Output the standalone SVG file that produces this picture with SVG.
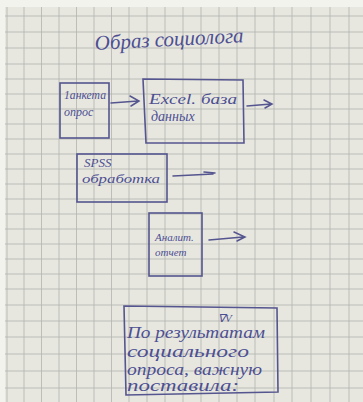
<svg xmlns="http://www.w3.org/2000/svg" width="363" height="402" viewBox="0 0 363 402">
<defs>
<style>
.grid{stroke:#b3b4ad;stroke-width:0.8;fill:none}
.box{fill:none;stroke:#55558f;stroke-width:1.6}
.ink{fill:#4d4f92;font-family:"Liberation Serif",serif;font-style:italic}
.con{stroke:#55558f;stroke-width:1.5;fill:none;stroke-linecap:round}
</style>
</defs>
<rect width="363" height="402" fill="#f3f3ee"/>
<rect x="5" y="7" width="358" height="395" fill="#e7e7e0"/>
<g id="grid" class="grid">
<path d="M7 7V402M24 7V402M41.5 7V402M59 7V402M76.5 7V402M94 7V402M111.5 7V402M129 7V402M147 7V402M165 7V402M183 7V402M201 7V402M219 7V402M237 7V402M255 7V402M274 7V402M292 7V402M311 7V402M330 7V402M349 7V402"/>
<path d="M5 16H363M5 32H363M5 48H363M5 64H363M5 79H363M5 94H363M5 109H363M5 124H363M5 139H363M5 154H363M5 169H363M5 184H363M5 199H363M5 214H363M5 229H363M5 244H363M5 259H363M5 274H363M5 289H363M5 305H363M5 321H363M5 337H363M5 354H363M5 371H363M5 388H363"/>
</g>
<g id="title"><text class="ink" x="95" y="50" font-size="21" transform="rotate(-3 95 50)">Образ социолога</text></g>
<g id="node1">
<rect class="box" x="60" y="83" width="49" height="55"/>
<text class="ink" x="64" y="99" font-size="12" textLength="42" lengthAdjust="spacingAndGlyphs">1анкета</text>
<text class="ink" x="64" y="116" font-size="12">опрос</text>
</g>
<g id="node2">
<path class="box" d="M143 79L243 80L244 143L146 143Z"/>
<text class="ink" x="149" y="104" font-size="15" textLength="88" lengthAdjust="spacingAndGlyphs">Excel. база</text>
<text class="ink" x="151" y="121" font-size="14">данных</text>
</g>
<g id="node3">
<rect class="box" x="77" y="154" width="90" height="48"/>
<text class="ink" x="84" y="167" font-size="13">SPSS</text>
<text class="ink" x="82" y="183" font-size="13" textLength="78" lengthAdjust="spacingAndGlyphs">обработка</text>
</g>
<g id="node4">
<rect class="box" x="149" y="213" width="53" height="63"/>
<text class="ink" x="155" y="241" font-size="11">Аналит.</text>
<text class="ink" x="155" y="256" font-size="11">отчет</text>
</g>
<g id="node5">
<path class="box" d="M124 306L277 308L278 392L126 395Z"/>
<text class="ink" x="218" y="322" font-size="11">∇V</text>
<text class="ink" x="127" y="338" font-size="16" textLength="138" lengthAdjust="spacingAndGlyphs">По результатам</text>
<text class="ink" x="127" y="357" font-size="16" textLength="122" lengthAdjust="spacingAndGlyphs">социального</text>
<text class="ink" x="127" y="375" font-size="16" textLength="135" lengthAdjust="spacingAndGlyphs">опроса, важную</text>
<text class="ink" x="127" y="391" font-size="16" textLength="112" lengthAdjust="spacingAndGlyphs">поставила:</text>
</g>
<g id="connectors" class="con">
<path d="M111 103L138 101M130 96L139 101L131 106"/>
<path d="M247 106L271 104M264 100L272 104L265 108"/>
<path d="M173 176L213 174M204 172L215 173"/>
<path d="M209 240L243 237M234 232L245 237L237 241"/>
</g>
</svg>
